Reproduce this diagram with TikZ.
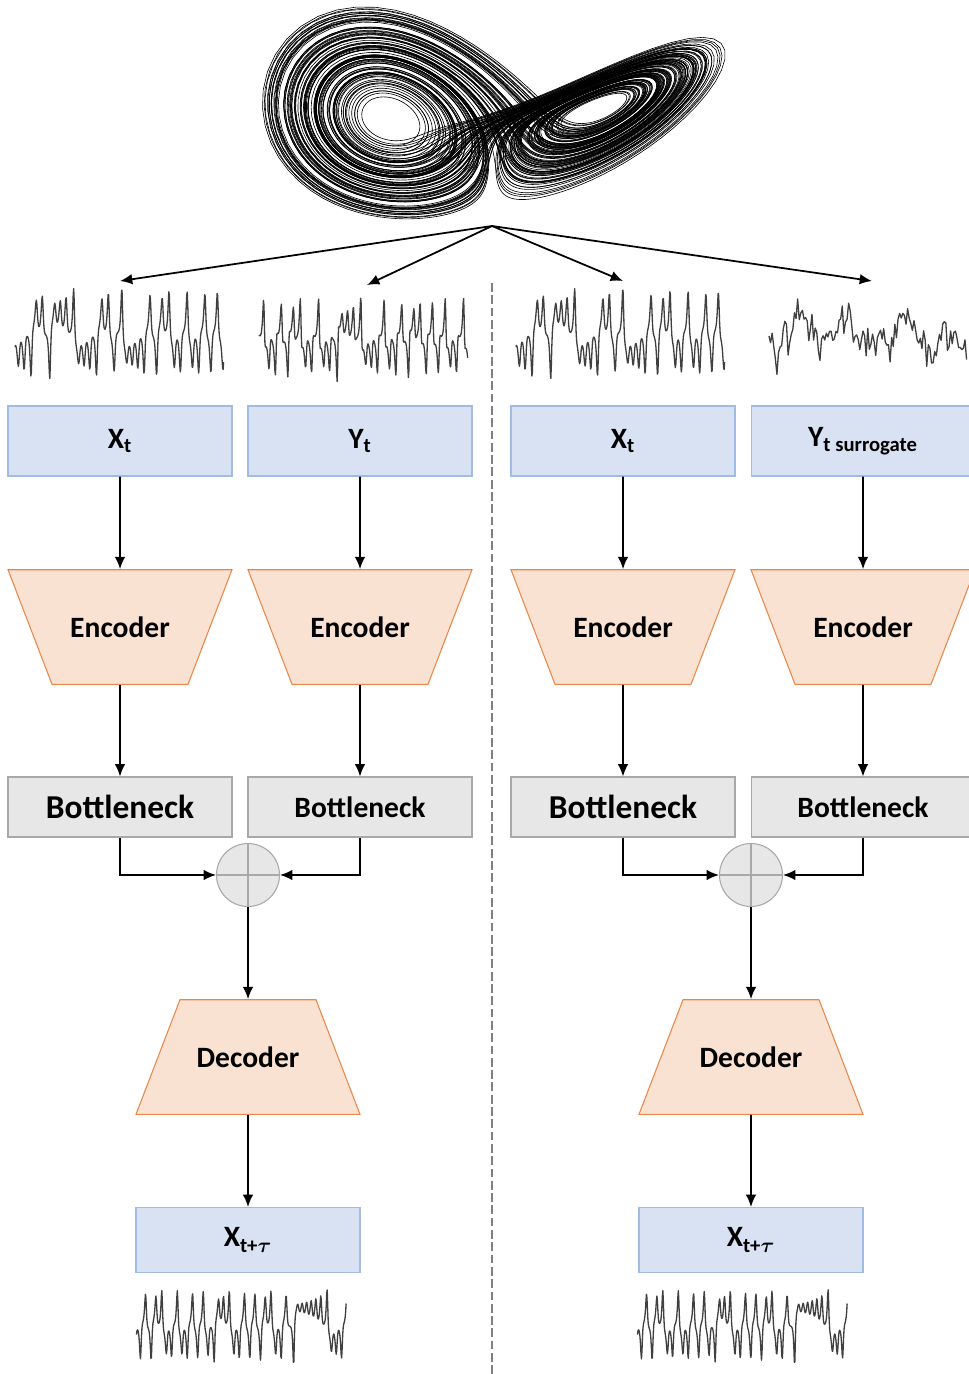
\documentclass[tikz,border=0pt]{standalone}
\usepackage{fontspec}
\setmainfont{Carlito}
\usepackage{tikz}
\usetikzlibrary{arrows.meta,shapes.geometric}

\definecolor{infill}{RGB}{217,226,243}
\definecolor{inedge}{RGB}{160,188,226}
\definecolor{codefill}{RGB}{250,226,210}
\definecolor{codeedge}{RGB}{236,134,72}
\definecolor{neckfill}{RGB}{231,231,231}
\definecolor{neckedge}{RGB}{168,168,168}

% Lorenz system, Euler steps with dt = 0.005
\makeatletter
\newdimen\lorx \newdimen\lory \newdimen\lorz
\newdimen\lordx \newdimen\lordy \newdimen\lordz \newdimen\lortmp
\newdimen\lorsx \newdimen\lorsy
\newcount\lork \newcount\lorcnt \newcount\lorseg
\def\lorenzset#1#2#3{\lorx=#1pt \lory=#2pt \lorz=#3pt }
\def\lorenzstep{%
  \lordx=\lory \advance\lordx-\lorx \lordx=0.05\lordx
  \lortmp=28pt \advance\lortmp-\lorz
  \lordy=\strip@pt\lorx\lortmp \advance\lordy-\lory \lordy=0.005\lordy
  \lordz=\strip@pt\lorx\lory \advance\lordz-2.66667\lorz \lordz=0.005\lordz
  \advance\lorx\lordx \advance\lory\lordy \advance\lorz\lordz}
\def\lorenzrun#1{\lork=#1\relax\lorenz@run}
\def\lorenz@run{\ifnum\lork>0 \lorenzstep\advance\lork-1 \expandafter\lorenz@run\fi}
% oblique view of the attractor (azimuth -60, elevation 30), in px of the picture
\def\lorenzproj{%
  \lorsx=494.5pt \advance\lorsx 8.66\lorx \advance\lorsx 3.64\lory \lorsx=0.56693\lorsx
  \lorsy=4.59\lorz \advance\lorsy-2.21\lorx \advance\lorsy 2.78\lory \advance\lorsy-239.3pt \lorsy=0.56693\lorsy}
\def\lorenzattractor#1#2{%
  \lorenzproj\pgfpathmoveto{\pgfqpoint{\lorsx}{\lorsy}}%
  \lorcnt=0 \lorseg=0
  \loop
    \lorenzrun{#2}\lorenzproj
    \pgfpathlineto{\pgfqpoint{\lorsx}{\lorsy}}%
    \advance\lorseg1
    \ifnum\lorseg=150 \pgfusepath{stroke}\pgfpathmoveto{\pgfqpoint{\lorsx}{\lorsy}}\lorseg=0 \fi
    \advance\lorcnt1
  \ifnum\lorcnt<#1 \repeat
  \pgfusepath{stroke}}
% #1 component, #2 left, #3 middle, #4 px per unit, #5 points, #6 steps per point, #7 px per point
\def\lorenzsignal#1#2#3#4#5#6#7{%
  \lorcnt=0
  \loop
    \lorsx=#7pt \lorsx=\lorcnt\lorsx \advance\lorsx#2pt \lorsx=0.56693\lorsx
    \lorsy=#4#1 \advance\lorsy-#3pt \lorsy=0.56693\lorsy
    \ifnum\lorcnt=0 \pgfpathmoveto{\pgfqpoint{\lorsx}{\lorsy}}\else\pgfpathlineto{\pgfqpoint{\lorsx}{\lorsy}}\fi
    \lorenzrun{#6}%
    \advance\lorcnt1
  \ifnum\lorcnt<#5 \repeat
  \pgfusepath{stroke}}
% noisy surrogate: #1 left, #2 middle, #3 points, #4 px per point, #5 px per unit
\def\surrogate#1#2#3#4#5{%
  \pgfmathsetseed{31}%
  \lordx=0pt \lorcnt=0
  \loop
    \pgfmathparse{rand}\lordy=\pgfmathresult pt
    \lordx=0.85\lordx \advance\lordx 0.6\lordy
    \pgfmathparse{rand}\lordz=\pgfmathresult pt
    \lortmp=\lordx \advance\lortmp 0.5\lordz
    \lorsx=#4pt \lorsx=\lorcnt\lorsx \advance\lorsx#1pt \lorsx=0.56693\lorsx
    \lorsy=#5\lortmp \advance\lorsy-#2pt \lorsy=0.56693\lorsy
    \ifnum\lorcnt=0 \pgfpathmoveto{\pgfqpoint{\lorsx}{\lorsy}}\else\pgfpathlineto{\pgfqpoint{\lorsx}{\lorsy}}\fi
    \advance\lorcnt1
  \ifnum\lorcnt<#3 \repeat
  \pgfusepath{stroke}}
\makeatother

\begin{document}
\begin{tikzpicture}[x=0.02cm, y=-0.02cm,
    lbl/.style={font=\bfseries\fontsize{16.8}{20}\selectfont},
    big/.style={font=\bfseries\fontsize{19}{22}\selectfont},
    inbox/.style={rectangle, draw=inedge, fill=infill, line width=0.6pt, minimum width=4.48cm, minimum height=1.4cm, lbl},
    coder/.style={trapezium, trapezium stretches body=true, trapezium left angle=69, trapezium right angle=69,
      draw=codeedge, fill=codefill, line width=0.6pt, minimum width=4.48cm,
      text height=12pt, text depth=0pt, inner ysep=26.6pt, lbl},
    neck/.style={rectangle, draw=neckedge, fill=neckfill, line width=0.6pt, minimum width=4.48cm, minimum height=1.2cm, lbl},
    adder/.style={circle, draw=neckedge, fill=neckfill, line width=0.6pt, minimum size=1.26cm, inner sep=0pt,
      path picture={\draw[neckedge, line width=0.6pt] (path picture bounding box.north) -- (path picture bounding box.south)
        (path picture bounding box.west) -- (path picture bounding box.east);}},
    flow/.style={-{Latex[length=7pt,width=6pt]}, line width=1pt},
    wave/.style={line width=0.75pt, black!75, line join=round}]
    \useasboundingbox (0,0) rectangle (969,1374);

    % attractor
    \begin{scope}[line width=0.35pt]
        \lorenzset{1}{1}{20}\lorenzrun{2000}
        \lorenzattractor{16000}{2}
    \end{scope}

    \coordinate (src) at (492,226);
    \coordinate (s1) at (120,281);
    \coordinate (s2) at (367,285);
    \coordinate (s3) at (623,281);
    \coordinate (s4) at (872,281);
    \draw[flow] (src) -- (s1);
    \draw[flow] (src) -- (s2);
    \draw[flow] (src) -- (s3);
    \draw[flow] (src) -- (s4);

    % signals
    \begin{scope}[wave]
        \lorenzset{-5}{-3}{20}\lorenzrun{5000}
        \lorenzsignal{\lorx}{15}{335}{2.6}{420}{12}{0.5}
        \lorenzset{-5}{-3}{20}\lorenzrun{5000}
        \lorenzsignal{\lorx}{518}{335}{2.6}{420}{12}{0.5}
        \lorenzset{3}{6}{15}\lorenzrun{1500}
        \lorenzsignal{\lory}{260}{340}{-1.9}{420}{12}{0.5}
        \lorenzset{-5}{-3}{20}\lorenzrun{8000}
        \lorenzsignal{\lorx}{137}{1331}{2.15}{422}{14}{0.5}
        \lorenzset{-5}{-3}{20}\lorenzrun{8000}
        \lorenzsignal{\lorx}{640}{1331}{2.15}{422}{14}{0.5}
        \surrogate{772}{335}{125}{1.6}{24}
    \end{scope}

    \draw[gray, line width=0.9pt, dash pattern=on 5pt off 2pt] (492,283) -- (492,1374);

    % left half
    \node[inbox] (x1) at (120,441) {X\textsubscript{t}};
    \node[inbox] (y1) at (360,441) {Y\textsubscript{t}};
    \node[coder, shape border rotate=180] (e1) at (120,627) {Encoder};
    \node[coder, shape border rotate=180] (e2) at (360,627) {Encoder};
    \node[neck, big] (b1) at (120,807) {Bottleneck};
    \node[neck] (b2) at (360,807) {Bottleneck};
    \node[adder] (a1) at (248,875) {};
    \node[coder] (d1) at (248,1057) {Decoder};
    \node[inbox, minimum height=1.3cm] (o1) at (248,1240) {X\textsubscript{t+{\boldmath$\tau$}}};

    % right half
    \node[inbox] (x2) at (623,441) {X\textsubscript{t}};
    \node[inbox] (y2) at (863,441) {Y\textsubscript{t surrogate}};
    \node[coder, shape border rotate=180] (e3) at (623,627) {Encoder};
    \node[coder, shape border rotate=180] (e4) at (863,627) {Encoder};
    \node[neck, big] (b3) at (623,807) {Bottleneck};
    \node[neck] (b4) at (863,807) {Bottleneck};
    \node[adder] (a2) at (751,875) {};
    \node[coder] (d2) at (751,1057) {Decoder};
    \node[inbox, minimum height=1.3cm] (o2) at (751,1240) {X\textsubscript{t+{\boldmath$\tau$}}};

    \draw[flow] (x1) -- (e1);
    \draw[flow] (y1) -- (e2);
    \draw[flow] (e1) -- (b1);
    \draw[flow] (e2) -- (b2);
    \draw[flow] (b1.south) |- (a1.west);
    \draw[flow] (b2.south) |- (a1.east);
    \draw[flow] (a1) -- (d1);
    \draw[flow] (d1) -- (o1);

    \draw[flow] (x2) -- (e3);
    \draw[flow] (y2) -- (e4);
    \draw[flow] (e3) -- (b3);
    \draw[flow] (e4) -- (b4);
    \draw[flow] (b3.south) |- (a2.west);
    \draw[flow] (b4.south) |- (a2.east);
    \draw[flow] (a2) -- (d2);
    \draw[flow] (d2) -- (o2);
\end{tikzpicture}
\end{document}
